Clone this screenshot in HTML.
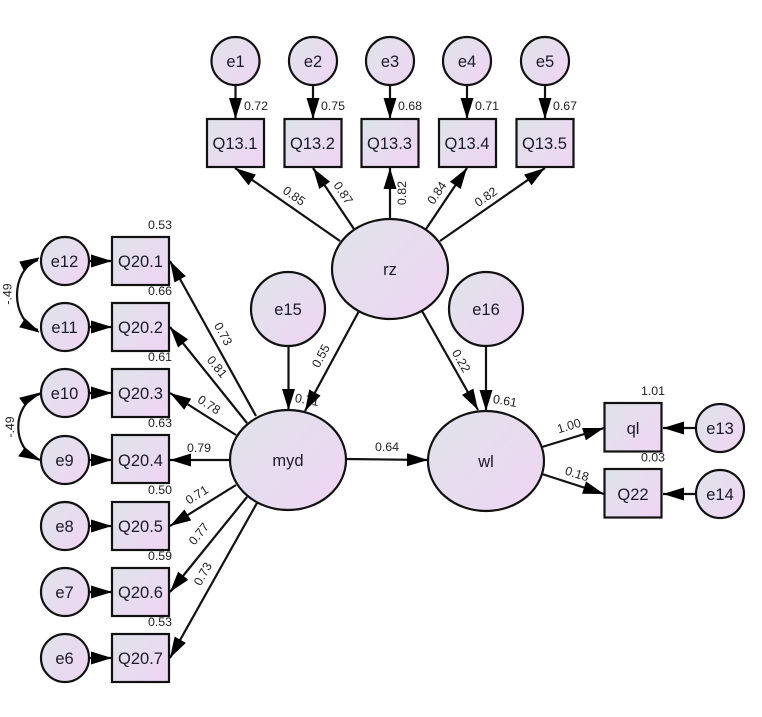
<!DOCTYPE html>
<html>
<head>
<meta charset="utf-8">
<style>
html,body{margin:0;padding:0;background:#fff}
svg{display:block}
text{font-family:"Liberation Sans",Arial,sans-serif;fill:#1a1a28}
.n{font-size:16.5px;text-anchor:middle}
.l{font-size:12.4px;text-anchor:middle;fill:#222}
.s{fill:url(#g);stroke:#111;stroke-width:2.2}
.c{stroke:#111;stroke-width:2.2;fill:none;marker-end:url(#a)}
</style>
</head>
<body>
<svg width="762" height="717" viewBox="0 0 762 717" xmlns="http://www.w3.org/2000/svg">
<defs>
<linearGradient id="g" x1="0" y1="0.1" x2="1" y2="0.9">
<stop offset="0" stop-color="#dfe3ea"/>
<stop offset="1" stop-color="#efd5f3"/>
</linearGradient>
<marker id="a" markerUnits="userSpaceOnUse" markerWidth="23" markerHeight="14" refX="21" refY="6.5" orient="auto">
<path d="M0,0 L21,6.5 L0,13 Z" fill="#000"/>
</marker>
</defs>

<!-- labels beneath arrows -->
<text class="l" x="307" y="404" transform="rotate(10 307 400)">0.71</text>

<!-- connectors top -->
<path class="c" d="M235.5,85V119"/>
<path class="c" d="M313,85V119"/>
<path class="c" d="M390,85V119"/>
<path class="c" d="M467,85V119"/>
<path class="c" d="M545,85V119"/>
<path class="c" d="M340,241L235,168"/>
<path class="c" d="M354,229L313,168"/>
<path class="c" d="M390,219V168"/>
<path class="c" d="M426,229L467,168"/>
<path class="c" d="M440,241L545,168"/>

<!-- rz to myd / wl -->
<path class="c" d="M359,311L305,411"/>
<path class="c" d="M422,311L478,410"/>
<path class="c" d="M288.500,346V410"/>
<path class="c" d="M486,346V411"/>
<path class="c" d="M346,459L428,460"/>

<!-- myd to Q20 -->
<path class="c" d="M256,416L170,261"/>
<path class="c" d="M247,423L170,327"/>
<path class="c" d="M236,435L170,393"/>
<path class="c" d="M230,460H170"/>
<path class="c" d="M236,485L170,526"/>
<path class="c" d="M247,497L170,592"/>
<path class="c" d="M257,503L170,658"/>

<!-- wl to outcomes -->
<path class="c" d="M542,447L604,428"/>
<path class="c" d="M542,474L604,494"/>

<!-- e to Q20 -->
<path class="c" d="M89,261H112"/>
<path class="c" d="M89,327H112"/>
<path class="c" d="M89,393H112"/>
<path class="c" d="M89,460H112"/>
<path class="c" d="M89,526H112"/>
<path class="c" d="M89,592H112"/>
<path class="c" d="M89,658H112"/>

<!-- e13/e14 -->
<path class="c" d="M696,428H663"/>
<path class="c" d="M696,494H663"/>

<!-- covariance curves -->
<path d="M38,260 C10,270 10,320 38,330" fill="none" stroke="#111" stroke-width="2.2"/>
<path d="M39,258L20,262L24,270Z" fill="#000" stroke="#000" stroke-width="1"/>
<path d="M39,332L20,327L25,319Z" fill="#000" stroke="#000" stroke-width="1"/>
<path d="M40,394 C11,404 11,450 40,460" fill="none" stroke="#111" stroke-width="2.2"/>
<path d="M40,393L20,398L25,405Z" fill="#000" stroke="#000" stroke-width="1"/>
<path d="M40,460L19,456L25,448Z" fill="#000" stroke="#000" stroke-width="1"/>

<!-- error circles top -->
<circle class="s" cx="235.500" cy="61" r="24"/><text class="n" x="235.500" y="67">e1</text>
<circle class="s" cx="313" cy="61" r="24"/><text class="n" x="313" y="67">e2</text>
<circle class="s" cx="390" cy="61" r="24"/><text class="n" x="390" y="67">e3</text>
<circle class="s" cx="467" cy="61" r="24"/><text class="n" x="467" y="67">e4</text>
<circle class="s" cx="545" cy="61" r="24"/><text class="n" x="545" y="67">e5</text>

<!-- top boxes -->
<rect class="s" x="207" y="119" width="57" height="48"/><text class="n" x="235" y="149">Q13.1</text>
<rect class="s" x="284.500" y="119" width="57" height="48"/><text class="n" x="312.500" y="149">Q13.2</text>
<rect class="s" x="361.500" y="119" width="57" height="48"/><text class="n" x="389.500" y="149">Q13.3</text>
<rect class="s" x="439" y="119" width="57" height="48"/><text class="n" x="467" y="149">Q13.4</text>
<rect class="s" x="516.500" y="119" width="57" height="48"/><text class="n" x="544.500" y="149">Q13.5</text>

<!-- left boxes -->
<rect class="s" x="112" y="237" width="57" height="48"/><text class="n" x="140.500" y="267">Q20.1</text>
<rect class="s" x="112" y="303" width="57" height="48"/><text class="n" x="140.500" y="333">Q20.2</text>
<rect class="s" x="112" y="369" width="57" height="48"/><text class="n" x="140.500" y="399">Q20.3</text>
<rect class="s" x="112" y="435" width="57" height="48"/><text class="n" x="140.500" y="466">Q20.4</text>
<rect class="s" x="112" y="502" width="57" height="48"/><text class="n" x="140.500" y="532">Q20.5</text>
<rect class="s" x="112" y="568" width="57" height="48"/><text class="n" x="140.500" y="598">Q20.6</text>
<rect class="s" x="112" y="634" width="57" height="48"/><text class="n" x="140.500" y="664">Q20.7</text>

<!-- left circles -->
<circle class="s" cx="65" cy="261" r="24"/><text class="n" x="64.500" y="267">e12</text>
<circle class="s" cx="65" cy="327" r="24"/><text class="n" x="64.500" y="333">e11</text>
<circle class="s" cx="65" cy="393" r="24"/><text class="n" x="64.500" y="399">e10</text>
<circle class="s" cx="65" cy="460" r="24"/><text class="n" x="64.500" y="466">e9</text>
<circle class="s" cx="65" cy="526" r="24"/><text class="n" x="64.500" y="532">e8</text>
<circle class="s" cx="65" cy="592" r="24"/><text class="n" x="64.500" y="598">e7</text>
<circle class="s" cx="65" cy="658" r="24"/><text class="n" x="64.500" y="664">e6</text>

<!-- latent -->
<ellipse class="s" cx="390" cy="269" rx="58" ry="50"/><text class="n" x="390" y="275">rz</text>
<ellipse class="s" cx="288" cy="460" rx="58" ry="50"/><text class="n" x="288" y="466">myd</text>
<ellipse class="s" cx="486" cy="461" rx="58" ry="50"/><text class="n" x="486" y="467">wl</text>
<circle class="s" cx="288" cy="309" r="37"/><text class="n" x="288" y="315">e15</text>
<circle class="s" cx="486" cy="309" r="37"/><text class="n" x="486" y="315">e16</text>

<!-- right -->
<rect class="s" x="604.500" y="403" width="57" height="48.500"/><text class="n" x="633" y="434">ql</text>
<rect class="s" x="604.500" y="469" width="57" height="48.500"/><text class="n" x="633" y="500">Q22</text>
<circle class="s" cx="720" cy="428" r="24"/><text class="n" x="720" y="434">e13</text>
<circle class="s" cx="720" cy="494" r="24"/><text class="n" x="720" y="500">e14</text>

<!-- variance labels -->
<text class="l" x="256" y="110">0.72</text>
<text class="l" x="333" y="110">0.75</text>
<text class="l" x="410" y="110">0.68</text>
<text class="l" x="487" y="110">0.71</text>
<text class="l" x="565" y="110">0.67</text>
<text class="l" x="160" y="229">0.53</text>
<text class="l" x="160" y="295">0.66</text>
<text class="l" x="160" y="361">0.61</text>
<text class="l" x="160" y="427">0.63</text>
<text class="l" x="160" y="494">0.50</text>
<text class="l" x="160" y="560">0.59</text>
<text class="l" x="160" y="626">0.53</text>
<text class="l" x="653" y="395">1.01</text>
<text class="l" x="653" y="461.500">0.03</text>
<text class="l" x="387" y="451">0.64</text>
<text class="l" x="505" y="405" transform="rotate(10 505 401)">0.61</text>

<!-- path labels -->
<text class="l" x="294" y="200" transform="rotate(35 294 196)">0.85</text>
<text class="l" x="343" y="197" transform="rotate(56 343 193)">0.87</text>
<text class="l" x="402" y="197" transform="rotate(-90 402 193)">0.82</text>
<text class="l" x="437" y="197" transform="rotate(-56 437 193)">0.84</text>
<text class="l" x="486" y="201" transform="rotate(-35 486 197)">0.82</text>
<text class="l" x="321" y="360" transform="rotate(-62 321 356)">0.55</text>
<text class="l" x="461" y="365" transform="rotate(60 461 361)">0.22</text>
<text class="l" x="223" y="338" transform="rotate(61 223 334)">0.73</text>
<text class="l" x="217" y="371" transform="rotate(51 217 367)">0.81</text>
<text class="l" x="209" y="409" transform="rotate(33 209 405)">0.78</text>
<text class="l" x="199" y="452">0.79</text>
<text class="l" x="197" y="499" transform="rotate(-32 197 495)">0.71</text>
<text class="l" x="199" y="538" transform="rotate(-51 199 534)">0.77</text>
<text class="l" x="203" y="578" transform="rotate(-61 203 574)">0.73</text>
<text class="l" x="569" y="430" transform="rotate(-17 569 426)">1.00</text>
<text class="l" x="577" y="478" transform="rotate(17 577 474)">0.18</text>
<text class="l" x="7.500" y="298" transform="rotate(-90 7.500 294)">-.49</text>
<text class="l" x="10" y="431" transform="rotate(-90 10 427)">-.49</text>
</svg>
</body>
</html>
